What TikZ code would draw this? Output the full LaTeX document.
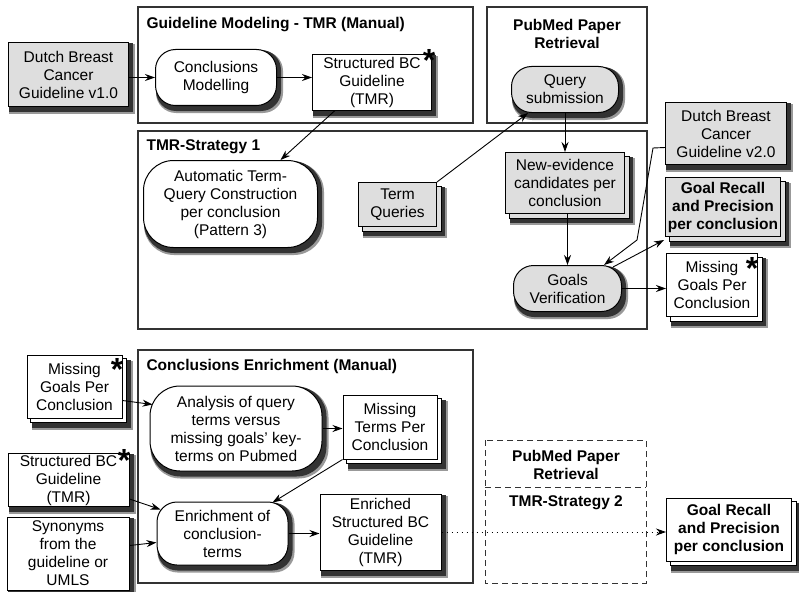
\documentclass[tikz,border=0pt]{standalone}
\usepackage{fontspec}
\setmainfont{Liberation Sans}
\usetikzlibrary{arrows.meta,calc}
\pgfdeclarelayer{shadowlayer}
\pgfdeclarelayer{sheetlayer}
\pgfsetlayers{shadowlayer,sheetlayer,main}
\begin{document}
\begin{tikzpicture}[x=1pt,y=-1pt,
  font=\fontsize{15.5}{18}\selectfont,
  box/.style={draw, line width=1pt, align=center, inner sep=1pt},
  graybg/.style={fill=black!13},
  whitebg/.style={fill=white},
  proc/.style={box, rounded corners=20pt},
  group/.style={draw=black!80, line width=1.2pt},
  title/.style={font=\fontsize{15.5}{18}\selectfont\bfseries},
  starmark/.style={font=\fontsize{32}{32}\selectfont\bfseries, inner sep=0pt},
  arr/.style={-{Stealth[length=10pt,width=7pt]}, line width=0.9pt},
  dashline/.style={dash pattern=on 6pt off 4pt, line width=1pt, draw=black!80},
  dotline/.style={dash pattern=on 1.5pt off 3.5pt},
  shadowsoft/.style={fill=black!40},
  shadowhard/.style={fill=black!80},
  sheet/.style={draw, line width=0.8pt},
]
\useasboundingbox (0,0) rectangle (799,591);

% group boxes
\draw[group] (138,7) rectangle (473,123);
\node[title, anchor=west] (gmt) at (143,25) {Guideline Modeling - TMR (Manual)};
\draw[group] (487,7) rectangle (647,123);
\node[title, align=center] (ppt) at (567,34) {PubMed Paper\\Retrieval};
\draw[group] (138,131) rectangle (647,329);
\node[title, anchor=west] (tst) at (143,147) {TMR-Strategy 1};
\draw[group] (138,350) rectangle (473,583);
\node[title, anchor=west] (cet) at (143,366) {Conclusions Enrichment (Manual)};
\draw[dashline] (485,440) rectangle (646,583);
\draw[dashline] (485,487) -- (646,487);
\node[title, align=center] (ppt2) at (566,465) {PubMed Paper\\Retrieval};
\node[title] (ts2t) at (566,503) {TMR-Strategy 2};

% top nodes
\node[box, graybg, minimum width=120, minimum height=64] (dbc1) at (68.5,74.5) {Dutch Breast\\Cancer\\Guideline v1.0};
\node[proc, whitebg, minimum width=121, minimum height=56] (cm) at (216,77.5) {Conclusions\\Modelling};
\node[box, whitebg, minimum width=119, minimum height=55] (sbc) at (372,82.5) {Structured BC\\Guideline\\(TMR)};
\node[starmark] (sbcs) at (429,60) {*};
\node[proc, graybg, minimum width=107, minimum height=46] (qs) at (565,89.5) {Query\\submission};
\node[box, graybg, minimum width=121, minimum height=62] (dbc2) at (726,133.5) {Dutch Breast\\Cancer\\Guideline v2.0};
\node[proc, whitebg, rounded corners=30pt, minimum width=174, minimum height=87] (atq) at (230.5,204) {Automatic Term-\\Query Construction\\per conclusion\\(Pattern 3)};
\node[box, graybg, minimum width=78, minimum height=44] (tq) at (397.5,204.5) {Term\\Queries};
\node[box, graybg, minimum width=119, minimum height=61] (ne) at (565,183) {New-evidence\\candidates per\\conclusion};
\node[proc, graybg, minimum width=108, minimum height=46] (gv) at (567.5,288.5) {Goals\\Verification};
\node[box, graybg, font=\fontsize{15.5}{18}\selectfont\bfseries, minimum width=115, minimum height=59] (grp1) at (723,207) {Goal Recall\\and Precision\\per conclusion};
\node[box, whitebg, minimum width=91, minimum height=63] (mg1) at (712,285) {Missing\\Goals Per\\Conclusion};
\node[starmark] (mg1s) at (752,268) {*};

% bottom nodes
\node[box, whitebg, minimum width=95, minimum height=63] (mg2) at (74.5,386.5) {Missing\\Goals Per\\Conclusion};
\node[starmark] (mg2s) at (117,369) {*};
\node[proc, whitebg, rounded corners=30pt, minimum width=172, minimum height=85] (ana) at (236,428.5) {Analysis of query\\terms versus\\missing goals' key-\\terms on Pubmed};
\node[box, whitebg, minimum width=94, minimum height=64] (mt) at (390,427) {Missing\\Terms Per\\Conclusion};
\node[box, whitebg, minimum width=121, minimum height=53] (sbc2) at (68.5,480) {Structured BC\\Guideline\\(TMR)};
\node[starmark] (sbc2s) at (124,460) {*};
\node[box, whitebg, minimum width=122, minimum height=73] (syn) at (68,553.5) {Synonyms\\from the\\guideline or\\UMLS};
\node[proc, whitebg, minimum width=131, minimum height=63] (enr) at (222.5,533.5) {Enrichment of\\conclusion-\\terms};
\node[box, whitebg, minimum width=121, minimum height=76] (esbc) at (380.5,532) {Enriched\\Structured BC\\Guideline\\(TMR)};
\node[box, whitebg, font=\fontsize{15.5}{18}\selectfont\bfseries, minimum width=125, minimum height=63] (grp2) at (729,529.5) {Goal Recall\\and Precision\\per conclusion};

% stacked sheets (documents)
\begin{pgfonlayer}{sheetlayer}
\foreach \nn/\cc in {tq/black!13,ne/black!13,grp1/black!13,mg1/white,mg2/white,mt/white,grp2/white}{
  \filldraw[sheet, fill=\cc] ($(\nn.south west)+(4,4)$) rectangle ($(\nn.north east)+(4,4)$);
}
\end{pgfonlayer}

% drop shadows
\begin{pgfonlayer}{shadowlayer}
\foreach \nn/\rr in {dbc1/0pt,cm/20pt,sbc/0pt,qs/20pt,dbc2/0pt,atq/30pt,gv/20pt,sbc2/0pt,syn/0pt,enr/20pt,esbc/0pt,ana/30pt}{
  \path[shadowsoft, rounded corners=\rr] ($(\nn.south west)+(1,7)$) rectangle ($(\nn.north east)+(6,2)$);
  \path[shadowhard, rounded corners=\rr] ($(\nn.south west)+(1,5)$) rectangle ($(\nn.north east)+(4,1)$);
}
\foreach \nn in {tq,ne,grp1,mg1,mg2,mt,grp2}{
  \path[shadowsoft] ($(\nn.south west)+(5,11)$) rectangle ($(\nn.north east)+(10,6)$);
  \path[shadowhard] ($(\nn.south west)+(5,9)$) rectangle ($(\nn.north east)+(8,5)$);
}
\end{pgfonlayer}

% connectors top
\draw[arr] (dbc1.east |- cm.west) -- (cm.west);
\draw[arr] (cm.east) -- (cm.east -| sbc.west);
\draw[arr] ($(sbc.south west)+(23,0)$) -- ($(atq.north)+(50,0)$);
\draw[arr] (tq.north east) -- ($(qs.south)+(-37,0)$);
\draw[arr] (qs.south) -- (qs.south |- ne.north);
\draw[arr] (gv.north |- ne.south) -- (gv.north);
\coordinate (bend1) at (653,148);
\coordinate (bend2) at (637,240);
\draw[arr] ($(dbc2.west)+(0,14)$) -- (bend1) -- (bend2) -- ($(gv.north east)+(-18,0)$);
\draw[arr] ($(gv.north east)+(-9,2)$) -- ($(grp1.south west)+(-1,3)$);
\draw[arr] (gv.east) -- (gv.east -| mg1.west);

% connectors bottom
\draw[arr] ($(mg2.east)+(0,14)$) -- ($(ana.west)+(3,-24)$);
\draw[arr] (ana.east) -- (ana.east -| mt.west);
\draw[arr] (mt.south west) -- ($(enr.north)+(50,1)$);
\draw[arr] ($(sbc2.east)+(0,19)$) -- ($(enr.west)+(4,-24)$);
\draw[arr] ($(syn.east)+(0,-8)$) -- ($(enr.west)+(0,9)$);
\draw[arr] (enr.east) -- (enr.east -| esbc.west);
\draw[arr, dotline] (esbc.east) -- (esbc.east -| grp2.west);
\end{tikzpicture}
\end{document}
